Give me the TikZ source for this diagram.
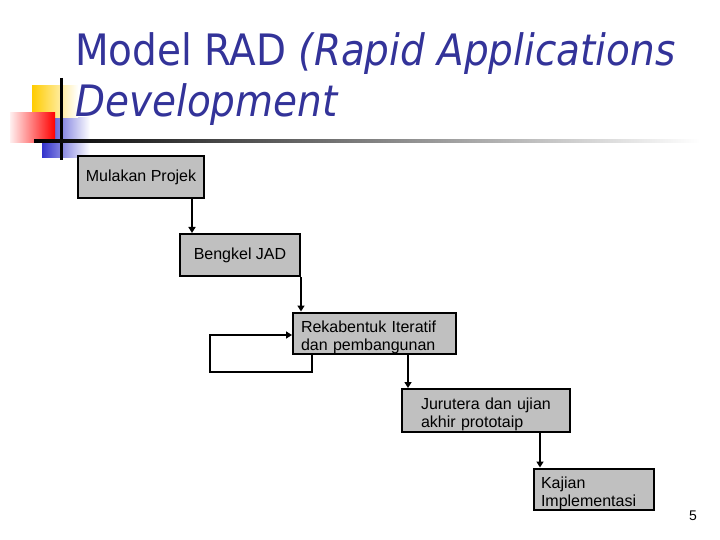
\documentclass[tikz,border=0pt]{standalone}
\usepackage{fontspec}
\setmainfont{Liberation Sans}
\newfontfamily\headfont{DejaVu Sans Condensed}
\usetikzlibrary{arrows.meta}
\definecolor{headblue}{RGB}{51,51,153}
\definecolor{boxgray}{RGB}{192,192,192}
\definecolor{gold}{RGB}{255,204,0}
\definecolor{slideblue}{RGB}{51,51,204}

\begin{document}
\begin{tikzpicture}[x=1pt,y=-1pt,
  stage/.style={draw,line width=2pt,fill=boxgray,font=\fontsize{16}{18}\selectfont,inner ysep=0pt},
  twoline/.style={stage,align=left,text height=18pt,text depth=20pt},
  flow/.style={line width=2pt,-{Triangle[length=6pt,width=7pt]}}]
  \useasboundingbox (0,0) rectangle (720,540);
  % slide corner
  \shade[left color=slideblue,middle color=slideblue,right color=white] (42,118) rectangle (90,158);
  \shade[left color=gold,middle color=gold,right color=white] (32,86) rectangle (78,118);
  \shade[left color=red!6,right color=red] (10,113) rectangle (55,143);
  \draw[line width=3pt] (61,78) -- (61,160);
  \shade[left color=black,middle color=gray!70,right color=white] (34,139.5) rectangle (700,142.5);
  % title
  \node[anchor=base west,inner sep=0pt,text=headblue,font=\headfont\fontsize{43.3}{50}\selectfont] (head) at (75,66) {Model RAD \textit{(Rapid Applications}};
  \node[anchor=base west,inner sep=0pt,text=headblue,font=\headfont\fontsize{43.3}{50}\selectfont] (headb) at (75,117) {\textit{Development}};
  % stages
  \node[stage,minimum width=126pt,minimum height=42pt] (b1) at (141,177) {Mulakan Projek};
  \node[stage,minimum width=120pt,minimum height=42pt] (b2) at (240,255) {Bengkel JAD};
  \node[twoline,minimum height=41pt,text width=147pt,inner xsep=8pt] (b3) at (374.5,333) {Rekabentuk Iteratif\\dan pembangunan};
  \node[twoline,minimum height=43pt,text width=130pt,inner xsep=19pt] (b4) at (486,410.5) {Jurutera dan ujian\\akhir prototaip};
  \node[twoline,minimum height=41pt,text width=106pt,inner xsep=7pt] (b5) at (594,489) {Kajian\\Implementasi};
  \node[font=\fontsize{14}{16}\selectfont] (pg) at (693,516) {5};
  % connectors
  \coordinate (d1) at (192,0);
  \coordinate (d3) at (312,372);
  \coordinate (d4) at (210,335);
  \coordinate (d5) at (408,0);
  \coordinate (d6) at (540,0);
  \draw[flow] (b1.south -| d1) -- (b2.north -| d1);
  \draw[flow] (b2.south east) -- (b2.south east |- b3.north);
  \draw[flow] (b3.south -| d3) -- (d3) -| (d4) -- (d4 -| b3.west);
  \draw[flow] (b3.south -| d5) -- (b4.north -| d5);
  \draw[flow] (b4.south -| d6) -- (b5.north -| d6);
\end{tikzpicture}
\end{document}
